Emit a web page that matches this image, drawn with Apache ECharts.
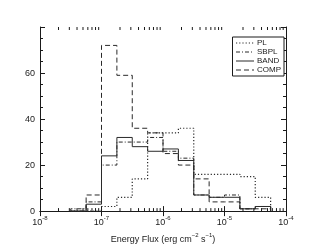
<!DOCTYPE html>
<html><head><meta charset="utf-8">
<script src="https://cdn.jsdelivr.net/npm/echarts@6/dist/echarts.min.js"></script>
<style>html,body{margin:0;padding:0;background:#fff}#c{width:311px;height:249px}</style>
</head><body><div id="c"></div>
<script>
// log10 of histogram bin edges (bins 0.25 decade wide)
const binEdgesLog = [-7.5,-7.25,-7,-6.75,-6.5,-6.25,-6,-5.75,-5.5,-5.25,-5,-4.75,-4.5,-4.25];
// counts per bin
const PL   = [0, 0, 2, 6, 14, 34, 34, 36, 16, 16, 16, 15, 6];
const SBPL = [1, 4, 20, 30, 30, 32, 26, 23, 7, 6, 7, 1, 2];
const BAND = [0, 3, 24, 32, 28, 26, 27, 22, 7, 6, 6, 1, 2];
const COMP = [0, 7, 72, 59, 36, 34, 25, 20, 14, 4, 4, 1, 1];
const xTickExps = [-8,-7,-6,-5,-4];
const yTicks = [0,20,40,60,80];

const FONT = 'Liberation Sans';
function stepData(counts){
  const d = [[Math.pow(10, binEdgesLog[0]), 0]];
  counts.forEach((c,i)=> d.push([Math.pow(10, binEdgesLog[i]), c]));
  d.push([Math.pow(10, binEdgesLog[binEdgesLog.length-1]), 0]);
  return d;
}
// minor ticks 2..9 x 10^n
const minorVals = [];
for (let n = xTickExps[0]; n < xTickExps[xTickExps.length-1]; n++)
  for (let k = 2; k <= 9; k++) minorVals.push(k*Math.pow(10,n));

const ink = '#1a1a1a';
const lineInk = '#2a2a2a';
const chart = echarts.init(document.getElementById('c'), null, {renderer:'canvas'});
const supRich = {
  b:{fontFamily:FONT,fontSize:9,color:ink,verticalAlign:'bottom',lineHeight:12},
  s:{fontFamily:FONT,fontSize:6,color:ink,verticalAlign:'top',lineHeight:12,padding:[0,0,6,0]}
};
function mk(name, data, type, w){
  return {name, type:'line', step:'end', data:stepData(data), symbol:'none', silent:true,
    animation:false, lineStyle:{color:lineInk, width:w||1, type:type}, itemStyle:{color:lineInk}};
}
chart.setOption({
  animation:false,
  backgroundColor:'#fff',
  grid:{left:40,right:25,top:27,bottom:33},
  legend:{orient:'vertical', right:27, top:37, itemWidth:18, itemHeight:7, itemGap:1,
    padding:[2,3,2,3], borderColor:ink, borderWidth:1, backgroundColor:'#fff',
    itemStyle:{opacity:0}, lineStyle:{width:1},
    textStyle:{fontFamily:FONT,fontSize:8,lineHeight:7,color:ink,padding:[0,0,0,-2]},
    data:['PL','SBPL','BAND','COMP']},
  xAxis:[{type:'log', logBase:10, min:1e-8, max:1e-4,
    axisLine:{lineStyle:{color:ink,width:1}},
    axisTick:{inside:true,length:5,lineStyle:{color:ink}},
    splitLine:{show:false},
    axisLabel:{margin:4, rich:supRich,
      formatter:v=>'{b|10}{s|'+Math.round(Math.log10(v))+'}'},
    name:'{b|Energy Flux (erg cm}{s|−2}{b| s}{s|−1}{b|)}', nameLocation:'middle', nameGap:18,
    nameTextStyle:{rich:supRich}},
   {type:'log', logBase:10, min:1e-8, max:1e-4, position:'top',
    axisLine:{lineStyle:{color:ink,width:1}},
    axisTick:{inside:true,length:5,lineStyle:{color:ink}},
    axisLabel:{show:false}, splitLine:{show:false}}],
  yAxis:[{type:'value', min:yTicks[0], max:yTicks[yTicks.length-1], interval:20,
    axisLine:{show:true,lineStyle:{color:ink,width:1}},
    axisTick:{show:true,inside:true,length:5,lineStyle:{color:ink}},
    minorTick:{show:true,splitNumber:4,length:3,lineStyle:{color:ink}},
    splitLine:{show:false},
    axisLabel:{fontFamily:FONT,fontSize:9,color:ink,margin:5,showMaxLabel:false}},
   {type:'value', min:yTicks[0], max:yTicks[yTicks.length-1], interval:20, position:'right',
    axisLine:{show:true,lineStyle:{color:ink,width:1}},
    axisTick:{show:true,inside:true,length:5,lineStyle:{color:ink}},
    minorTick:{show:true,splitNumber:4,length:3,lineStyle:{color:ink}},
    splitLine:{show:false}, axisLabel:{show:false}}],
  series:[
    mk('PL', PL, [1.2,2], 1.2),
    mk('SBPL', SBPL, [4,2,1,2], 1),
    mk('BAND', BAND, 'solid', 1),
    mk('COMP', COMP, [5,3], 1),
    {type:'custom', silent:true, animation:false, clip:false,
      data:minorVals.map(v=>[v]),
      renderItem:(params, api)=>{
        const v = api.value(0);
        const b = api.coord([v, yTicks[0]]);
        const t = api.coord([v, yTicks[yTicks.length-1]]);
        return {type:'group', children:[
          {type:'line', shape:{x1:b[0],y1:b[1],x2:b[0],y2:b[1]-3}, style:{stroke:ink,lineWidth:1}},
          {type:'line', shape:{x1:t[0],y1:t[1],x2:t[0],y2:t[1]+3}, style:{stroke:ink,lineWidth:1}}
        ]};
      }}
  ]
});
</script></body></html>
